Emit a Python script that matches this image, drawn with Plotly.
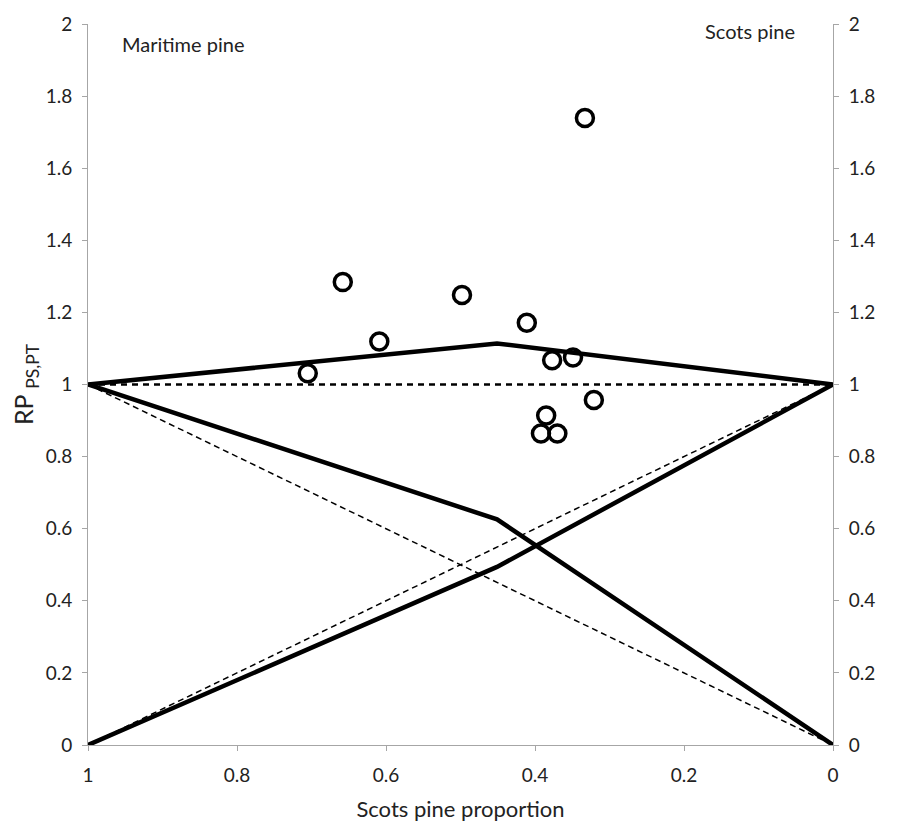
import plotly.graph_objects as go

# Observed points
obs_x = [0.705, 0.658, 0.609, 0.498, 0.411, 0.377, 0.349, 0.321, 0.385, 0.392, 0.370, 0.333]
obs_y = [1.031, 1.284, 1.119, 1.248, 1.171, 1.067, 1.075, 0.957, 0.914, 0.864, 0.864, 1.739]

# Model lines (solid)
mix_x = [1, 0.451, 0]
total_y = [1, 1.114, 1]
maritime_y = [1, 0.626, 0]
scots_y = [0, 0.494, 1]

# Reference (dashed) lines
ref_x = [1, 0]
ref_total = [1, 1]
ref_maritime = [1, 0]
ref_scots = [0, 1]

xticks = [1, 0.8, 0.6, 0.4, 0.2, 0]
xtick_labels = ["1", "0.8", "0.6", "0.4", "0.2", "0"]
yticks = [0, 0.2, 0.4, 0.6, 0.8, 1, 1.2, 1.4, 1.6, 1.8, 2]
ytick_labels = ["0", "0.2", "0.4", "0.6", "0.8", "1", "1.2", "1.4", "1.6", "1.8", "2"]

FONT = "Lato, 'Open Sans', sans-serif"

fig = go.Figure()
fig.add_trace(go.Scatter(x=ref_x, y=ref_total, mode="lines",
                         line=dict(color="black", width=2, dash="6px,5px")))
fig.add_trace(go.Scatter(x=ref_x, y=ref_maritime, mode="lines",
                         line=dict(color="black", width=1.5, dash="6px,4px")))
fig.add_trace(go.Scatter(x=ref_x, y=ref_scots, mode="lines",
                         line=dict(color="black", width=1.5, dash="6px,4px")))
for ys in (total_y, maritime_y, scots_y):
    fig.add_trace(go.Scatter(x=mix_x, y=ys, mode="lines",
                             line=dict(color="black", width=4.5)))
fig.add_trace(go.Scatter(x=obs_x, y=obs_y, mode="markers",
                         marker=dict(symbol="circle-open", size=17, color="black",
                                     line=dict(width=3.5, color="black"))))
# trace for right axis (duplicate of the 1-line, drawn on y2)
fig.add_trace(go.Scatter(x=ref_x, y=ref_total, yaxis="y2", mode="lines",
                         line=dict(color="black", width=2, dash="6px,5px"), hoverinfo="skip"))

axis_common = dict(showgrid=False, zeroline=False, showline=True,
                   linecolor="#A6A6A6", linewidth=1, ticks="outside",
                   ticklen=5, tickcolor="#A6A6A6",
                   tickfont=dict(family=FONT, size=19, color="#222"))

fig.update_layout(
    width=901, height=829,
    margin=dict(l=88, r=68, t=18, b=82),
    paper_bgcolor="white", plot_bgcolor="white",
    showlegend=False,
    font=dict(family=FONT, color="#222"),
    xaxis=dict(range=[1, 0], tickvals=xticks, ticktext=xtick_labels,
               ticklabelstandoff=8,
               title=dict(text="Scots pine proportion", font=dict(family=FONT, size=22), standoff=16),
               **axis_common),
    yaxis=dict(range=[0, 2], tickvals=yticks, ticktext=ytick_labels,
               ticklabelstandoff=6,
               title=dict(text="RP <sub>PS,PT</sub>", font=dict(family=FONT, size=25), standoff=4),
               **axis_common),
    yaxis2=dict(range=[0, 2], tickvals=yticks, ticktext=ytick_labels,
                ticklabelstandoff=6,
                overlaying="y", side="right", **axis_common),
    annotations=[
        dict(text="Maritime pine", xref="paper", yref="paper", x=0.043, y=0.972,
             xanchor="left", yanchor="middle", showarrow=False,
             font=dict(family=FONT, size=20, color="#222")),
        dict(text="Scots pine", xref="paper", yref="paper", x=0.952, y=0.99,
             xanchor="right", yanchor="middle", showarrow=False,
             font=dict(family=FONT, size=20, color="#222")),
    ],
)

fig.write_html("out.html")
